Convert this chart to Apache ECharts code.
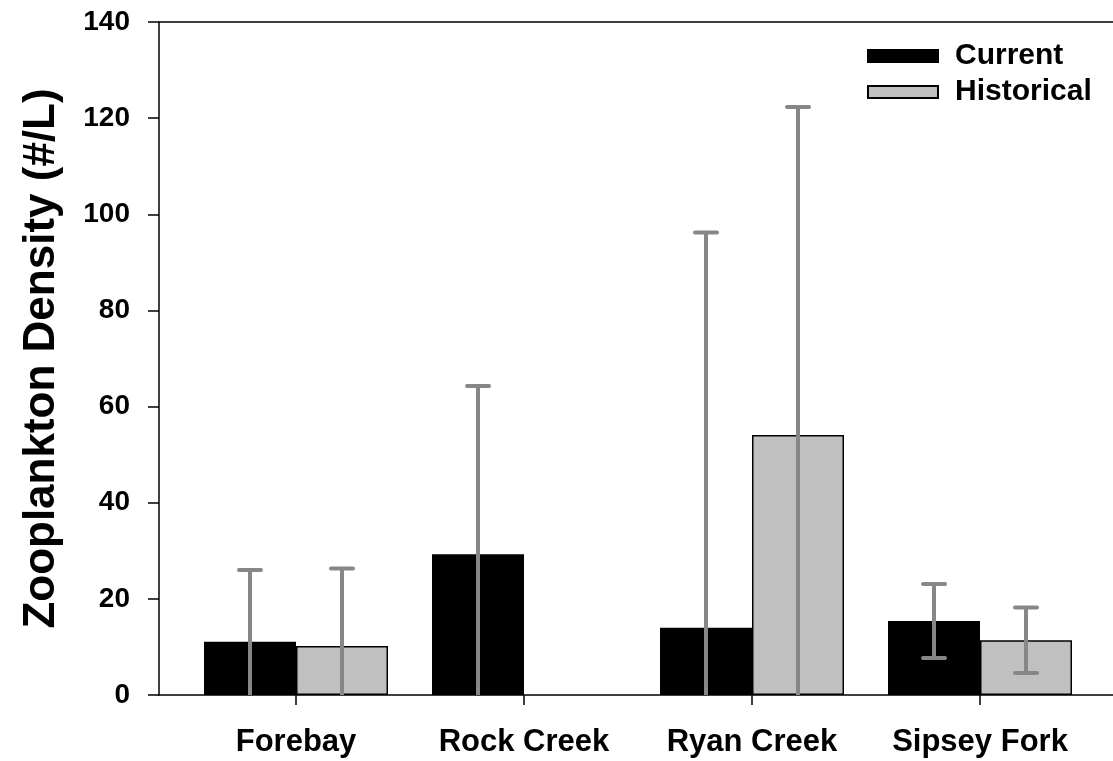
<!DOCTYPE html>
<html>
<head>
<meta charset="utf-8">
<title>Zooplankton Density</title>
<script src="https://cdn.jsdelivr.net/npm/echarts@6/dist/echarts.min.js"></script>
<style>
  html, body { margin: 0; padding: 0; background: #fff; }
  #chart { width: 1113px; height: 761px; }
</style>
</head>
<body>
<div id="chart"></div>
<script>
// Sites and mean zooplankton density (#/L) with standard deviation
const sites = ['Forebay', 'Rock Creek', 'Ryan Creek', 'Sipsey Fork'];
const currentMean = [11.1, 29.3, 14.0, 15.4];
const currentSd = [14.9, 35.0, 82.2, 7.7];
const historicalMean = [10.2, null, 54.1, 11.4];
const historicalSd = [16.1, null, 68.2, 6.8];
const yTicks = [0, 20, 40, 60, 80, 100, 120, 140];

const FONT = '"Liberation Sans", Arial, Helvetica, sans-serif';
const BAR_W = 92;
const ERR_COLOR = '#878787';

const chart = echarts.init(document.getElementById('chart'), null, { renderer: 'canvas' });

// Error bars: a vertical whisker from max(0, mean - sd) to mean + sd,
// with caps; the lower cap is omitted where the whisker is clipped at zero.
function errorSeries(name, means, sds, side) {
  const data = means.map((m, i) => (m == null ? null : [i, m, sds[i]])).filter(d => d);
  return {
    name: name + ' SD',
    type: 'custom',
    xAxisIndex: 2,
    yAxisIndex: 1,
    z: 10,
    silent: true,
    data: data,
    renderItem: function (params, api) {
      const idx = api.value(0);
      const mean = api.value(1);
      const sd = api.value(2);
      const hi = mean + sd;
      const lo = Math.max(0, mean - sd);
      const top = api.coord([idx, hi]);
      const bot = api.coord([idx, lo]);
      const x = top[0] + side * BAR_W / 2;
      const capHalf = 11;
      const children = [
        { type: 'line', shape: { x1: x, y1: top[1], x2: x, y2: bot[1] },
          style: { stroke: ERR_COLOR, lineWidth: 4, lineCap: 'butt' } },
        { type: 'line', shape: { x1: x - capHalf, y1: top[1], x2: x + capHalf, y2: top[1] },
          style: { stroke: ERR_COLOR, lineWidth: 4, lineCap: 'round' } }
      ];
      if (mean - sd > 0) {
        children.push({ type: 'line', shape: { x1: x - capHalf, y1: bot[1], x2: x + capHalf, y2: bot[1] },
          style: { stroke: ERR_COLOR, lineWidth: 4, lineCap: 'round' } });
      }
      return { type: 'group', children: children };
    }
  };
}

const option = {
  backgroundColor: '#ffffff',
  animation: false,
  textStyle: { fontFamily: FONT },
  legend: {
    orient: 'vertical',
    left: 862,
    top: 36,
    icon: 'rect',
    itemWidth: 70,
    itemHeight: 12,
    itemGap: 6,
    data: ['Current', 'Historical'],
    textStyle: { fontFamily: FONT, fontWeight: 'bold', fontSize: 30, color: '#000', lineHeight: 29, padding: [0, 0, 0, 12] }
  },
  grid: [
    // frame: left axis, bottom line, top line
    { left: 159, top: 22, width: 960, bottom: 66, containLabel: false },
    // data area
    { left: 182, top: 22, width: 912, bottom: 66, containLabel: false }
  ],
  xAxis: [
    { gridIndex: 0, type: 'value', min: 0, max: 1, position: 'bottom',
      axisLine: { show: true, onZero: false, lineStyle: { color: '#000', width: 1.5 } },
      axisTick: { show: false }, axisLabel: { show: false }, splitLine: { show: false } },
    { gridIndex: 0, type: 'value', min: 0, max: 1, position: 'top',
      axisLine: { show: true, onZero: false, lineStyle: { color: '#000', width: 1.5 } },
      axisTick: { show: false }, axisLabel: { show: false }, splitLine: { show: false } },
    { gridIndex: 1, type: 'category', data: sites, position: 'bottom',
      axisLine: { show: false },
      axisTick: { show: true, interval: 0, alignWithLabel: true, length: 10, lineStyle: { color: '#000', width: 1.5 } },
      axisLabel: { show: true, interval: 0, hideOverlap: false, margin: 32, fontFamily: FONT, fontWeight: 'bold', fontSize: 31, color: '#000' },
      splitLine: { show: false } }
  ],
  yAxis: [
    { gridIndex: 0, type: 'value', min: yTicks[0], max: yTicks[yTicks.length - 1], interval: yTicks[1] - yTicks[0],
      name: 'Zooplankton Density (#/L)', nameLocation: 'middle', nameRotate: 90, nameGap: 95,
      nameTextStyle: { fontFamily: FONT, fontWeight: 'bold', fontSize: 44, color: '#000' },
      axisLine: { show: true, lineStyle: { color: '#000', width: 1.5 } },
      axisTick: { show: true, inside: false, length: 11, lineStyle: { color: '#000', width: 1.5 } },
      axisLabel: { show: true, margin: 29, fontFamily: FONT, fontWeight: 'bold', fontSize: 28, color: '#000' },
      splitLine: { show: false } },
    { gridIndex: 1, type: 'value', min: yTicks[0], max: yTicks[yTicks.length - 1], interval: yTicks[1] - yTicks[0],
      show: false, splitLine: { show: false } }
  ],
  series: [
    { name: 'Current', type: 'bar', xAxisIndex: 2, yAxisIndex: 1, data: currentMean,
      barWidth: BAR_W, barGap: '0%',
      itemStyle: { color: '#000000', borderColor: '#000000', borderWidth: 1.5 } },
    { name: 'Historical', type: 'bar', xAxisIndex: 2, yAxisIndex: 1, data: historicalMean,
      barWidth: BAR_W, barGap: '0%',
      itemStyle: { color: '#c0c0c0', borderColor: '#000000', borderWidth: 1.5 } },
    errorSeries('Current', currentMean, currentSd, -1),
    errorSeries('Historical', historicalMean, historicalSd, 1)
  ]
};

chart.setOption(option);
</script>
</body>
</html>
